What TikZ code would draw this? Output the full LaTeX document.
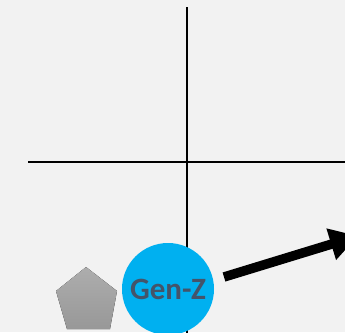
\documentclass[tikz,border=0pt]{standalone}
\usepackage{fontspec}
\setmainfont{Carlito}
\usetikzlibrary{arrows.meta}
\definecolor{bgcol}{HTML}{F2F2F2}
\definecolor{circcol}{HTML}{00B0F0}
\definecolor{txtcol}{HTML}{44546A}
\definecolor{pentop}{HTML}{ADADAD}
\definecolor{penbot}{HTML}{989898}
\tikzset{
  axis/.style={line width=2pt, black},
  bigarrow/.style={line width=9.5pt, black, -{Triangle[length=28pt,width=31pt]}},
  gencircle/.style={circle, fill=circcol, inner sep=0pt, minimum size=92pt,
     font=\bfseries\fontsize{31}{31}\selectfont, text=txtcol},
  penta/.style={top color=pentop, bottom color=penbot, draw=none}
}
\begin{document}
\begin{tikzpicture}[x=1pt,y=-1pt]
\useasboundingbox (0,0) rectangle (345,332);
\clip (0,0) rectangle (345,332);
\fill[bgcol] (0,0) rectangle (345,332);
\coordinate (vtop) at (186.5,7);
\coordinate (vbot) at (186.5,340);
\coordinate (hleft) at (28,162);
\coordinate (hright) at (350,162);
\draw[axis] (vtop) -- (vbot);
\draw[axis] (hleft) -- (hright);
\fill[penta] (86,267) -- (117,291) -- (110,329) -- (67,329) -- (56,291) -- cycle;
\node[gencircle] (genz) at (168,289) {Gen-Z};
\coordinate (atail) at (224,277);
\coordinate (atip) at (358,236);
\draw[bigarrow] (atail) -- (atip);
\end{tikzpicture}
\end{document}
